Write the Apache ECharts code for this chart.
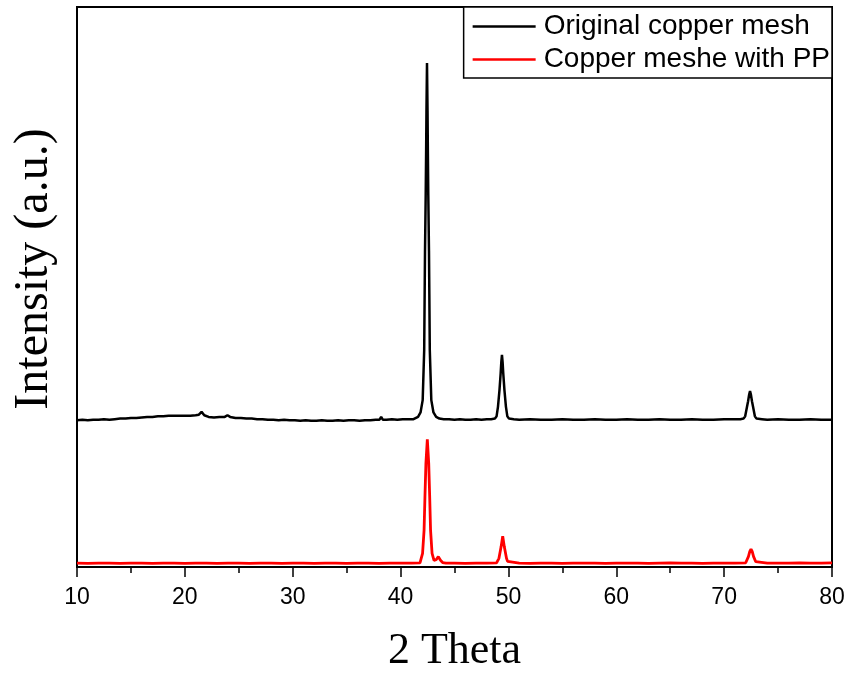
<!DOCTYPE html>
<html>
<head>
<meta charset="utf-8">
<script src="https://cdn.jsdelivr.net/npm/echarts@6/dist/echarts.min.js"></script>
<style>
html,body{margin:0;padding:0;background:#fff;}
#chart{width:849px;height:679px;}
</style>
</head>
<body>
<div id="chart"></div>
<script>
// Original copper mesh (2θ, intensity a.u.)
var originalTheta = [10,10.5,11,11.5,12,12.5,13,13.5,14,14.5,15,15.5,16,16.5,17,17.5,18,18.5,19,19.5,20,20.5,21,21.3,21.55,21.8,22.2,22.7,23.2,23.7,23.95,24.2,24.7,25.2,25.7,26.2,26.7,27.2,27.7,28.2,28.7,29.2,29.7,30.2,30.7,31.2,31.7,32.2,32.7,33.2,33.7,34.2,34.7,35.2,35.7,36.2,36.7,37.2,37.7,38.05,38.2,38.35,38.7,39.2,39.7,40.2,40.7,41.2,41.62,41.85,42.05,42.19,42.265,42.33,42.37,42.4,42.45,42.5,42.53,42.57,42.635,42.71,42.85,43.05,43.3,43.6,44,44.5,45,45.5,46,46.5,47,47.5,48,48.4,48.75,48.9,49.03,49.17,49.28,49.34,49.4,49.46,49.52,49.63,49.77,49.9,50.05,50.5,51,52,53,54,55,56,57,58,59,60,61,62,63,64,65,66,67,68,69,70,71,71.5,71.8,71.95,72.12,72.22,72.32,72.4,72.48,72.58,72.68,72.85,73,73.5,74,75,76,77,78,79,80];
var originalIntensity = [26.2,26.3,26.2,26.3,26.3,26.4,26.3,26.4,26.5,26.5,26.6,26.6,26.7,26.8,26.8,26.9,26.9,27.0,27.0,27.0,27.0,27.0,27.1,27.2,27.7,27.1,26.8,26.7,26.8,26.8,27.1,26.8,26.6,26.6,26.5,26.5,26.4,26.4,26.3,26.3,26.2,26.3,26.2,26.2,26.1,26.2,26.1,26.1,26.2,26.1,26.1,26.2,26.1,26.2,26.2,26.1,26.2,26.2,26.3,26.3,26.8,26.3,26.3,26.4,26.3,26.4,26.4,26.4,26.8,27.6,29.8,38.7,56.4,66.4,74.4,81.4,90.0,81.4,74.4,66.4,56.4,38.7,29.8,27.6,26.8,26.5,26.4,26.4,26.3,26.4,26.3,26.3,26.4,26.3,26.4,26.4,26.5,26.9,28.6,31.6,34.6,36.6,37.9,36.6,34.6,31.6,28.6,26.9,26.5,26.4,26.3,26.4,26.3,26.3,26.4,26.3,26.3,26.4,26.3,26.3,26.4,26.3,26.3,26.4,26.3,26.3,26.4,26.3,26.3,26.4,26.4,26.4,26.5,26.9,28.6,29.6,30.8,31.4,30.8,29.6,28.6,26.9,26.5,26.4,26.3,26.4,26.3,26.3,26.4,26.3,26.3];

// Copper mesh with PP
var ppTheta = [10,11,12,13,14,15,16,17,18,19,20,21,22,23,24,25,26,27,28,29,30,31,32,33,34,35,36,37,38,39,40,41,41.8,41.95,42.04,42.18,42.26,42.35,42.48,42.61,42.7,42.78,42.92,43.1,43.3,43.5,43.7,43.9,44.2,45,46,47,48,48.9,49.05,49.12,49.32,49.47,49.62,49.82,49.92,50.1,51,52,53,54,55,56,57,58,59,60,61,62,63,64,65,66,67,68,69,70,71,72,72.05,72.25,72.38,72.49,72.6,72.73,72.93,73,74,75,76,77,78,79,80];
var ppIntensity = [0.7,0.65,0.7,0.7,0.65,0.7,0.7,0.65,0.7,0.7,0.65,0.7,0.7,0.65,0.7,0.7,0.65,0.7,0.7,0.65,0.7,0.7,0.65,0.7,0.7,0.65,0.7,0.7,0.65,0.7,0.7,0.7,0.75,1.1,2.45,6.6,12.55,18.5,22.8,18.5,12.55,6.6,2.45,1.2,1.3,1.85,1.2,0.8,0.7,0.7,0.65,0.7,0.7,0.75,1.0,1.55,3.6,5.5,3.6,1.55,1.0,0.75,0.7,0.65,0.7,0.7,0.65,0.7,0.7,0.7,0.65,0.7,0.7,0.7,0.65,0.7,0.75,0.7,0.7,0.65,0.7,0.7,0.7,0.75,0.95,1.85,2.8,3.2,2.8,1.85,0.95,0.75,0.7,0.7,0.7,0.75,0.7,0.7,0.75];

var seriesNames = ['Original copper mesh', 'Copper meshe with PP'];
var xTickValues = [10, 20, 30, 40, 50, 60, 70, 80];

function zip(xs, ys) { return xs.map(function (x, i) { return [x, ys[i]]; }); }

var chart = echarts.init(document.getElementById('chart'), null, {renderer: 'canvas'});
chart.setOption({
  backgroundColor: '#ffffff',
  animation: false,
  grid: {left: 77, right: 17, top: 7, bottom: 112, show: true, borderColor: '#000', borderWidth: 2,
    containLabel: false, outerBoundsMode: 'none'},
  legend: {
    orient: 'vertical', right: 17, top: 7,
    data: seriesNames,
    icon: 'rect', itemWidth: 63, itemHeight: 2.5, itemGap: 0,
    padding: [3, 2, 2, 9],
    borderColor: '#000', borderWidth: 1.5, backgroundColor: '#fff',
    textStyle: {fontFamily: 'Liberation Sans, Arial, sans-serif', fontSize: 28, color: '#000', lineHeight: 33, padding: [0, 0, 0, 3]}
  },
  xAxis: {
    type: 'value', min: 10, max: 80, interval: 10,
    name: '2 Theta', nameLocation: 'middle', nameGap: 62,
    nameTextStyle: {fontFamily: 'Liberation Serif, Times New Roman, serif', fontSize: 44, color: '#000'},
    axisLine: {show: true, onZero: false, lineStyle: {color: '#000', width: 2}},
    axisTick: {show: true, inside: false, length: 10, lineStyle: {color: '#000', width: 1.5}},
    minorTick: {show: true, splitNumber: 2, length: 6, lineStyle: {color: '#000', width: 1.5}},
    axisLabel: {fontFamily: 'Liberation Sans, Arial, sans-serif', fontSize: 23, color: '#000', margin: 19,
      formatter: function (v) { return xTickValues.indexOf(v) >= 0 ? String(v) : ''; }},
    splitLine: {show: false}
  },
  yAxis: {
    type: 'value', min: 0, max: 100,
    name: 'Intensity (a.u.)', nameLocation: 'middle', nameGap: 19,
    nameTextStyle: {fontFamily: 'Liberation Serif, Times New Roman, serif', fontSize: 48, color: '#000', padding: [0, 0, 0, 36]},
    axisLine: {show: true, onZero: false, lineStyle: {color: '#000', width: 2}},
    axisTick: {show: false},
    axisLabel: {show: false},
    splitLine: {show: false}
  },
  series: [
    {name: seriesNames[0], type: 'line', data: zip(originalTheta, originalIntensity), symbol: 'none',
      lineStyle: {color: '#000000', width: 2.5}, itemStyle: {color: '#000000'}},
    {name: seriesNames[1], type: 'line', data: zip(ppTheta, ppIntensity), symbol: 'none',
      lineStyle: {color: '#ff0000', width: 2.8}, itemStyle: {color: '#ff0000'}}
  ]
});
</script>
</body>
</html>
